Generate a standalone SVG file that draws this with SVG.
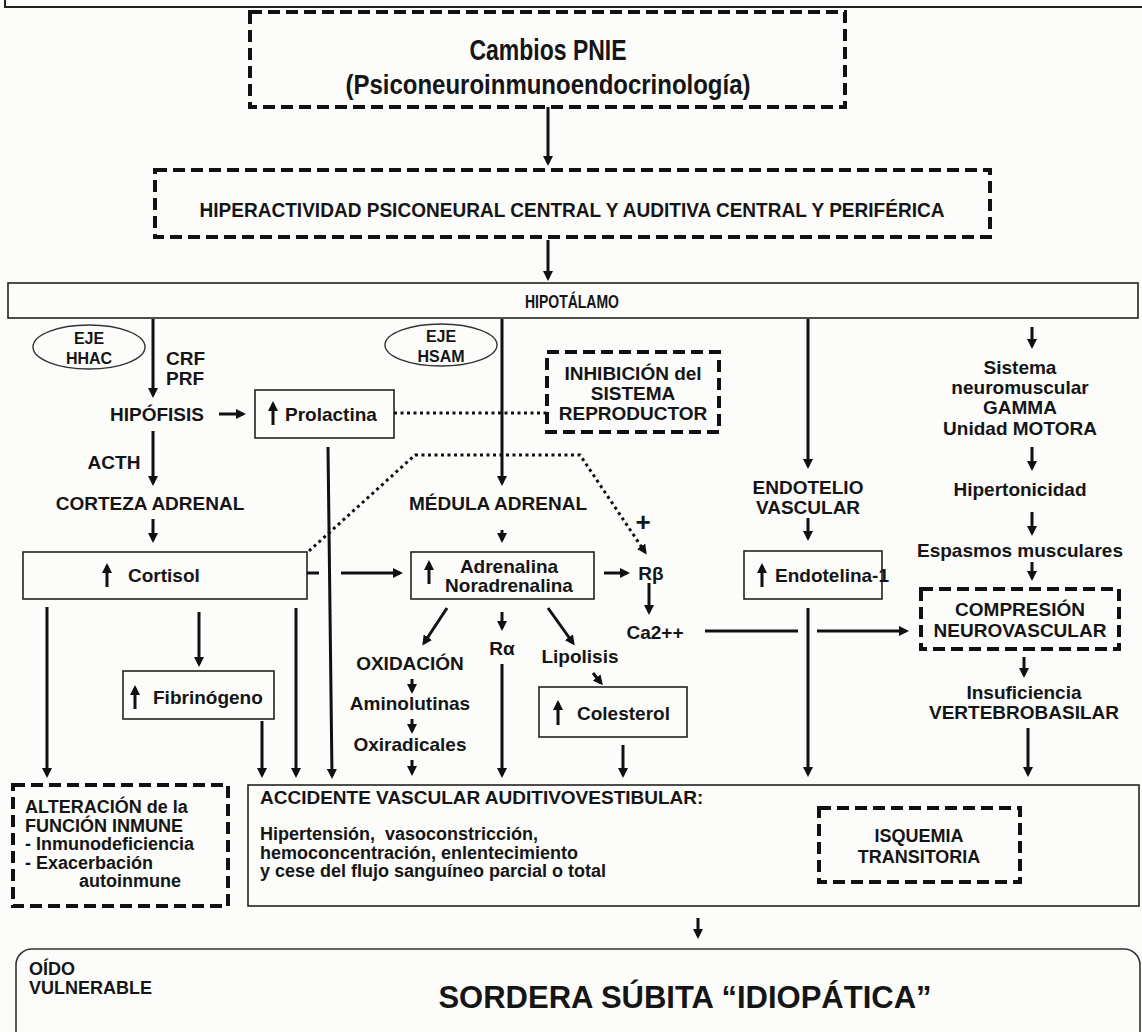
<svg xmlns="http://www.w3.org/2000/svg" width="1142" height="1032" viewBox="0 0 1142 1032">
<defs>
<marker id="ah" viewBox="0 0 10 10" refX="7" refY="5" markerWidth="10" markerHeight="10" markerUnits="userSpaceOnUse" orient="auto"><path d="M0,0 L10,5 L0,10 z" fill="#111"/></marker>
<style>
.t{font-family:"Liberation Sans",Arial,sans-serif;font-weight:bold;font-size:19px;fill:#151515;text-anchor:middle;dominant-baseline:central}
.s{text-anchor:start}
.f18{font-size:18px}
.f16{font-size:16px}
.box{fill:none;stroke:#222;stroke-width:1.6}
.dbox{fill:none;stroke:#111;stroke-width:4;stroke-dasharray:12 6}
.ell{fill:none;stroke:#333;stroke-width:1.4}
.a{fill:none;stroke:#111;stroke-width:3;marker-end:url(#ah)}
.l{fill:none;stroke:#111;stroke-width:3}
.d{fill:none;stroke:#111;stroke-width:3;stroke-dasharray:3 3.5}
</style>
</defs>
<rect x="0" y="0" width="1142" height="1032" fill="#fcfcfa"/>
<rect x="5" y="-10" width="1145" height="17" fill="none" stroke="#222" stroke-width="2"/>

<g id="n-pnie">
<rect class="dbox" x="250" y="12" width="595" height="95"/>
<text class="t" x="548" y="50" style="font-size:29px" textLength="157" lengthAdjust="spacingAndGlyphs">Cambios PNIE</text>
<text class="t" x="548" y="84" style="font-size:28px" textLength="405" lengthAdjust="spacingAndGlyphs">(Psiconeuroinmunoendocrinología)</text>
</g>
<g id="n-hiper">
<rect class="dbox" x="155" y="170" width="835" height="67"/>
<text class="t" x="572" y="210" style="font-size:20px" textLength="745" lengthAdjust="spacingAndGlyphs">HIPERACTIVIDAD PSICONEURAL CENTRAL Y AUDITIVA CENTRAL Y PERIFÉRICA</text>
</g>
<g id="n-hipot">
<rect class="box" x="8" y="283" width="1130" height="35"/>
<text class="t" x="572" y="301" style="font-size:19px" textLength="94" lengthAdjust="spacingAndGlyphs">HIPOTÁLAMO</text>
</g>
<g id="n-hhac">
<ellipse class="ell" cx="89" cy="347" rx="56" ry="22"/>
<text class="t f16" x="89" y="338">EJE</text>
<text class="t f16" x="89" y="358">HHAC</text>
</g>
<g id="n-crf">
<text class="t s" x="166" y="358">CRF</text>
<text class="t s" x="166" y="378">PRF</text>
</g>
<g id="n-hipofisis"><text class="t" x="157" y="414">HIPÓFISIS</text></g>
<g id="n-prolactina">
<rect class="box" x="255" y="390" width="139" height="48"/>
<path class="a" d="M273,425 V404"/>
<text class="t s" x="285" y="414">Prolactina</text>
</g>
<g id="n-acth"><text class="t" x="114" y="462">ACTH</text></g>
<g id="n-corteza"><text class="t" x="150" y="503">CORTEZA ADRENAL</text></g>
<g id="n-cortisol">
<rect class="box" x="23" y="552" width="284" height="47"/>
<path class="a" d="M107,587 V566"/>
<text class="t s" x="128" y="575">Cortisol</text>
</g>
<g id="n-fibrinogeno">
<rect class="box" x="123" y="671" width="151" height="48"/>
<path class="a" d="M135,709 V688"/>
<text class="t s" x="153" y="697">Fibrinógeno</text>
</g>
<g id="n-hsam">
<ellipse class="ell" cx="441" cy="345" rx="56" ry="21"/>
<text class="t f16" x="441" y="336">EJE</text>
<text class="t f16" x="441" y="356">HSAM</text>
</g>
<g id="n-inhibicion">
<rect class="dbox" x="547" y="352" width="172" height="80"/>
<text class="t" x="633" y="373">INHIBICIÓN del</text>
<text class="t" x="633" y="393">SISTEMA</text>
<text class="t" x="633" y="413">REPRODUCTOR</text>
</g>
<g id="n-medula"><text class="t" x="498" y="503">MÉDULA ADRENAL</text></g>
<g id="n-adrenalina">
<rect class="box" x="411" y="552" width="183" height="47"/>
<path class="a" d="M429,584 V563"/>
<text class="t" x="509" y="566">Adrenalina</text>
<text class="t" x="509" y="585">Noradrenalina</text>
</g>
<g id="n-rb"><text class="t" x="651" y="573">Rβ</text></g>
<g id="n-plus"><text class="t" x="643" y="522" style="font-size:26px">+</text></g>
<g id="n-ca"><text class="t" x="655" y="632">Ca2++</text></g>
<g id="n-oxidacion">
<text class="t" x="410" y="663">OXIDACIÓN</text>
<text class="t" x="410" y="703">Aminolutinas</text>
<text class="t" x="410" y="744">Oxiradicales</text>
</g>
<g id="n-ra"><text class="t" x="502" y="648">Rα</text></g>
<g id="n-lipolisis"><text class="t" x="580" y="656">Lipolisis</text></g>
<g id="n-colesterol">
<rect class="box" x="539" y="687" width="148" height="50"/>
<path class="a" d="M558,725 V703"/>
<text class="t s" x="577" y="713">Colesterol</text>
</g>
<g id="n-endotelio">
<text class="t" x="808" y="487">ENDOTELIO</text>
<text class="t" x="808" y="507">VASCULAR</text>
</g>
<g id="n-endotelina">
<rect class="box" x="744" y="551" width="138" height="48"/>
<path class="a" d="M762,587 V566"/>
<text class="t s" x="775" y="575">Endotelina-1</text>
</g>
<g id="n-sistema">
<text class="t" x="1020" y="367">Sistema</text>
<text class="t" x="1020" y="387">neuromuscular</text>
<text class="t" x="1020" y="407">GAMMA</text>
<text class="t" x="1020" y="428">Unidad MOTORA</text>
</g>
<g id="n-hipertonicidad"><text class="t" x="1020" y="489">Hipertonicidad</text></g>
<g id="n-espasmos"><text class="t" x="1020" y="550">Espasmos musculares</text></g>
<g id="n-compresion">
<rect class="dbox" x="921" y="589" width="198" height="60"/>
<text class="t" x="1020" y="609">COMPRESIÓN</text>
<text class="t" x="1020" y="630">NEUROVASCULAR</text>
</g>
<g id="n-insuficiencia">
<text class="t" x="1024" y="692">Insuficiencia</text>
<text class="t" x="1024" y="712">VERTEBROBASILAR</text>
</g>
<g id="n-alteracion">
<rect class="dbox" x="13" y="785" width="215" height="121"/>
<text class="t s f18" x="25" y="807">ALTERACIÓN de la</text>
<text class="t s f18" x="25" y="825.5">FUNCIÓN INMUNE</text>
<text class="t s f18" x="25" y="844">- Inmunodeficiencia</text>
<text class="t s f18" x="25" y="862.5">- Exacerbación</text>
<text class="t f18" x="130" y="881">autoinmune</text>
</g>
<g id="n-accidente">
<rect class="box" x="248" y="785" width="891" height="121"/>
<text class="t s" x="260" y="797">ACCIDENTE VASCULAR AUDITIVOVESTIBULAR:</text>
<text class="t s f18" x="260" y="834" xml:space="preserve">Hipertensión,  vasoconstricción,</text>
<text class="t s f18" x="260" y="852.5">hemoconcentración, enlentecimiento</text>
<text class="t s f18" x="260" y="871">y cese del flujo sanguíneo parcial o total</text>
</g>
<g id="n-isquemia">
<rect class="dbox" x="819" y="808" width="201" height="74"/>
<text class="t f18" x="919" y="836">ISQUEMIA</text>
<text class="t f18" x="919" y="857">TRANSITORIA</text>
</g>
<g id="n-sordera">
<rect x="16" y="949" width="1124" height="110" rx="16" fill="none" stroke="#333" stroke-width="1.6"/>
<text class="t s f18" x="29" y="969">OÍDO</text>
<text class="t s f18" x="29" y="988">VULNERABLE</text>
<text class="t" x="685" y="997" style="font-size:31px">SORDERA SÚBITA “IDIOPÁTICA”</text>
</g>

<g id="connectors">
<path class="a" d="M548,107 V163"/>
<path class="a" d="M548,240 V278"/>
<path class="a" d="M153,319 V395"/>
<path class="a" d="M219,414 H243"/>
<path class="a" d="M153,431 V483"/>
<path class="a" d="M153,519 V540"/>
<path class="a" d="M328,447 L332,776"/>
<path class="d" d="M394,413 H547"/>
<path class="d" d="M309,551 L415,455 H580 L645,552" marker-end="url(#ah)"/>
<path class="a" d="M502,319 V483"/>
<path class="a" d="M502,530 V540"/>
<path class="l" d="M307,573 H319"/>
<path class="a" d="M341,573 H400"/>
<path class="a" d="M604,573 H627"/>
<path class="a" d="M649,583 V612"/>
<path class="l" d="M705,631 H798"/>
<path class="a" d="M817,631 H906"/>
<path class="a" d="M808,319 V466"/>
<path class="a" d="M808,518 V538"/>
<path class="a" d="M808,608 V774"/>
<path class="a" d="M1032,327 V346"/>
<path class="a" d="M1032,447 V468"/>
<path class="a" d="M1032,512 V533"/>
<path class="a" d="M1032,562 V578"/>
<path class="a" d="M1024,657 V675"/>
<path class="a" d="M1028,728 V774"/>
<path class="a" d="M447,608 L424,643"/>
<path class="a" d="M412,679 V691"/>
<path class="a" d="M412,719 V731"/>
<path class="a" d="M412,760 V773"/>
<path class="a" d="M502,612 V628"/>
<path class="a" d="M502,664 V775"/>
<path class="a" d="M548,608 L573,643"/>
<path class="a" d="M593,673 L601,683"/>
<path class="a" d="M623,745 V775"/>
<path class="a" d="M47,607 V775"/>
<path class="a" d="M199,612 V664"/>
<path class="a" d="M262,721 V775"/>
<path class="a" d="M296,608 V775"/>
<path class="a" d="M698,918 V936"/>
</g>
</svg>
